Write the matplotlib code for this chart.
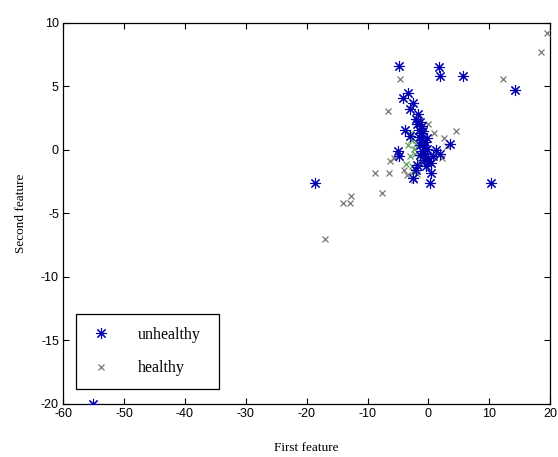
# Scatter of two features, unhealthy vs healthy samples (MATLAB-like look)

import numpy as np
import matplotlib
matplotlib.use('Agg')
from matplotlib import pyplot as plt

# unhealthy samples (blue asterisks)
unhealthy_x = [-55.0, -18.7, 10.3, 14.3, 5.7, -4.8, 1.7, 1.9, -3.3, -4.1,
               -2.5, -3.0, -2.0, -1.4, -3.8, -3.0, 3.5, -5.0, -4.8, 1.9,
               0.8, 0.5, 0.5, -2.5, 0.3, -1.8, -1.5, -1.2, -1.6, -1.0,
               -0.6, -1.3, -0.8, -0.3, -1.0, -0.5, -1.4, 0.0, -0.7, -2.0,
               -1.8, -0.2, -0.4, -1.7, -1.1, -0.9, 1.2, -0.1]
unhealthy_y = [-20.0, -2.6, -2.6, 4.7, 5.8, 6.6, 6.5, 5.8, 4.5, 4.1,
               3.7, 3.2, 2.4, 2.2, 1.6, 1.1, 0.5, -0.1, -0.5, -0.3,
               -0.5, -1.0, -1.8, -2.2, -2.6, 2.0, 1.6, 1.3, 1.0, 0.8,
               0.6, 0.4, 0.2, 0.1, -0.1, -0.3, -0.4, -0.6, -0.8, -1.6,
               -1.2, 0.9, -1.3, 2.8, 1.9, 1.5, 0.0, -0.9]

# healthy samples (grey crosses)
healthy_x = [19.5, 18.5, 12.3, -4.6, -6.6, 0.0, 4.5, -8.8, -6.5, -6.3,
             -7.6, -12.7, -14.0, -12.9, -17.0, 3.0, 2.2, -3.5, -2.4, 1.0,
             -5.6, -4.0, 2.6]
healthy_y = [9.2, 7.7, 5.6, 5.6, 3.1, 2.0, 1.5, -1.8, -1.8, -0.9,
             -3.4, -3.6, -4.2, -4.2, -7.0, 0.3, -0.6, -2.0, -2.4, 1.3,
             -0.6, -1.6, 0.9]

# healthy samples inside the dense cluster (drawn greenish)
core_x = [-3.3, -3.6, -2.7, -2.2, -2.9, -1.9, -2.4, -3.1, -2.0, -2.6,
          -1.5, -2.8]
core_y = [0.4, -1.1, -1.3, -0.3, 0.8, -1.9, 0.1, -0.5, 0.5, -1.7,
          -0.9, 1.3]

plt.rcParams['font.family'] = ['Liberation Sans', 'DejaVu Sans']
plt.rcParams['axes.unicode_minus'] = False

fig = plt.figure(figsize=(5.58, 4.57), dpi=100)
ax = fig.add_axes([0.113, 0.116, 0.873, 0.834])

asterisk = (8, 2, 0)

ax.plot(core_x, core_y, 'x', color='#3f8a3f', markersize=5,
        markeredgewidth=0.9, alpha=0.85)
ax.plot(healthy_x, healthy_y, 'x', color='#777777', markersize=5,
        markeredgewidth=0.9, label='healthy', zorder=3)
ax.plot(unhealthy_x, unhealthy_y, marker=asterisk, color='#0000b0',
        markersize=8, markeredgewidth=0.8, linestyle='none',
        label='unhealthy', zorder=4)

ax.set_xlim(-60, 20)
ax.set_ylim(-20, 10)
ax.set_xticks(np.arange(-60, 21, 10))
ax.set_yticks(np.arange(-20, 11, 5))
ax.tick_params(direction='in', top=True, right=True, labelsize=9,
               length=4, width=0.8, pad=3)
for s in ax.spines.values():
    s.set_linewidth(0.9)

ax.set_xlabel('First feature', family='Liberation Serif', fontsize=9.5,
              labelpad=16)
ax.set_ylabel('Second feature', family='Liberation Serif', fontsize=9.5,
              labelpad=10)

handles, labels = ax.get_legend_handles_labels()
leg = ax.legend(handles[::-1], labels[::-1], loc='lower left',
                bbox_to_anchor=(0.027, 0.039, 0.294, 0.2), mode='expand',
                borderaxespad=0, fancybox=False, edgecolor='black',
                framealpha=1, labelspacing=1.1, handletextpad=1.55,
                borderpad=0.8, handlelength=1.5,
                prop={'family': 'Liberation Serif', 'size': 11.5})
leg.get_frame().set_linewidth(0.9)

fig.savefig('out.png', dpi=100)
